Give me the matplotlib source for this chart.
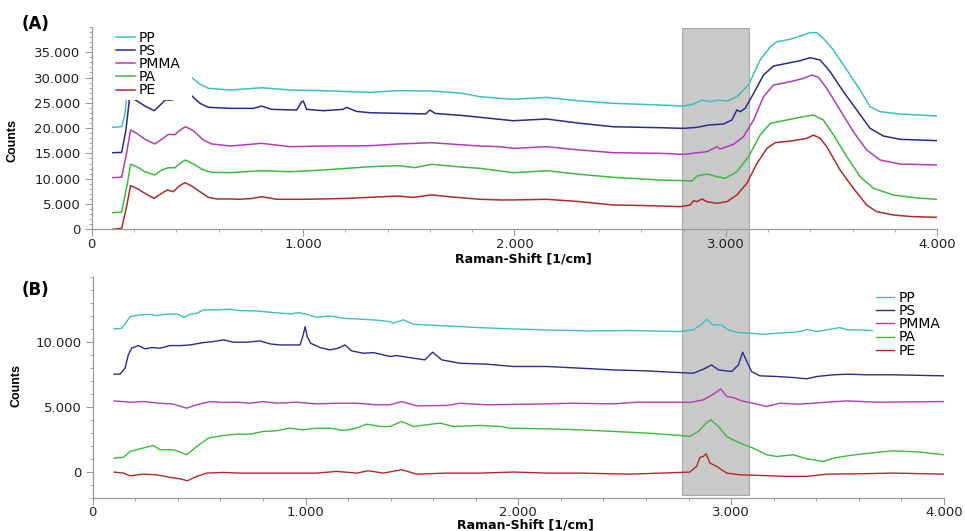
import matplotlib
matplotlib.use("Agg")
import matplotlib.pyplot as plt
from matplotlib.ticker import MultipleLocator, FixedLocator, FuncFormatter
from matplotlib.patches import Rectangle
import matplotlib.transforms as mtransforms

# ---------------- data: panel (A) ----------------
names = ["PP", "PS", "PMMA", "PA", "PE"]
colors = ["#3fbfbf", "#2b2b8c", "#b23cb2", "#3cba3c", "#b02a2a"]

pp_a_x = [100, 142, 158, 165, 175, 200, 300, 440, 473, 512, 552, 657, 804, 939, 1096, 1316, 1450, 1608, 1750, 1837,
          1994, 2152, 2300, 2467, 2690, 2800, 2847, 2887, 2926, 2965, 3005, 3052, 3107, 3162, 3210, 3241, 3304, 3351,
          3398, 3430, 3461, 3509, 3572, 3635, 3682, 3729, 3824, 4000]
pp_a_y = [20150, 20300, 22920, 26000, 28000, 29000, 30500, 31000, 30030, 28700, 27860, 27530, 27980, 27530, 27390,
          27070, 27400, 27330, 26900, 26200, 25690, 26080, 25400, 24900, 24560, 24370, 24760, 25550, 25220, 25550,
          25350, 26210, 28520, 33460, 36090, 37080, 37540, 38200, 38860, 38860, 37740, 35430, 31480, 27530, 24230,
          23250, 22780, 22390]

ps_a_x = [100, 142, 162, 178, 186, 213, 252, 295, 324, 348, 379, 407, 440, 473, 512, 552, 657, 765, 804, 851, 970,
          993, 1001, 1017, 1096, 1190, 1206, 1253, 1316, 1450, 1580, 1600, 1625, 1750, 1837, 1994, 2152, 2300, 2467,
          2690, 2800, 2863, 2918, 2989, 3028, 3052, 3068, 3091, 3131, 3178, 3225, 3288, 3351, 3398, 3446, 3493, 3556,
          3619, 3682, 3745, 3824, 4000]
ps_a_y = [15140, 15200, 19620, 25550, 26010, 25410, 24360, 23440, 24560, 25550, 25550, 26010, 27000, 26400, 24900,
          24110, 23900, 23900, 24360, 23710, 23570, 25210, 25350, 23710, 23440, 23710, 24100, 23300, 23040, 22920,
          22800, 23570, 22900, 22500, 22130, 21460, 21800, 21000, 20270, 20080, 19950, 20150, 20610, 20810, 21600,
          23580, 23250, 23900, 26870, 30490, 32270, 32800, 33320, 33920, 33460, 31150, 27200, 23580, 19950, 18440,
          17780, 17520]

pmma_a_x = [100, 142, 165, 184, 213, 252, 299, 331, 363, 394, 418, 444, 481, 528, 568, 657, 804, 939, 1096, 1316,
            1450, 1608, 1750, 1837, 1931, 1994, 2152, 2300, 2467, 2690, 2800, 2910, 2958, 2973, 3036, 3083, 3131,
            3178, 3225, 3304, 3367, 3406, 3438, 3477, 3540, 3603, 3666, 3729, 3824, 4000]
pmma_a_y = [10200, 10300, 15020, 19620, 18970, 17780, 16860, 17780, 18770, 18700, 19620, 20270, 19480, 17650, 16860,
            16460, 16990, 16320, 16460, 16520, 16860, 17110, 16700, 16460, 16320, 16000, 16320, 15700, 15140, 15010,
            14810, 15340, 16330, 15870, 16790, 18310, 21600, 26210, 28520, 29170, 29830, 30490, 30030, 27860, 23580,
            19290, 15670, 13700, 12900, 12710]

pa_a_x = [100, 142, 169, 184, 213, 252, 299, 331, 363, 394, 418, 444, 481, 528, 568, 657, 804, 939, 1096, 1316,
          1450, 1530, 1608, 1750, 1837, 1994, 2152, 2300, 2467, 2690, 2800, 2839, 2863, 2910, 2958, 2997, 3052, 3107,
          3162, 3210, 3288, 3367, 3414, 3461, 3509, 3572, 3635, 3698, 3792, 3900, 4000]
pa_a_y = [3280, 3400, 9090, 12840, 12370, 11380, 10730, 11720, 12170, 12170, 13040, 13690, 12900, 11720, 11260,
          11200, 11580, 11380, 11720, 12370, 12570, 12200, 12840, 12300, 12050, 11180, 11580, 10900, 10270, 9740,
          9610, 9540, 10530, 10930, 10400, 10070, 11390, 14350, 18630, 20940, 21600, 22260, 22590, 21600, 18630,
          14350, 10400, 8100, 6780, 6200, 5920]

pe_a_x = [100, 142, 165, 184, 213, 252, 295, 331, 358, 386, 414, 441, 473, 512, 552, 591, 650, 702, 760, 804, 875,
          1001, 1096, 1200, 1316, 1450, 1520, 1608, 1700, 1837, 1931, 1994, 2152, 2300, 2467, 2600, 2700, 2783, 2831,
          2847, 2863, 2887, 2910, 2958, 3005, 3052, 3099, 3147, 3194, 3233, 3320, 3383, 3414, 3446, 3477, 3540, 3603,
          3666, 3713, 3792, 3880, 4000]
pe_a_y = [0, 200, 4470, 8620, 8100, 7110, 6120, 7110, 7770, 7430, 8560, 9210, 8560, 7430, 6320, 5990, 6000, 5930,
          6100, 6440, 5930, 5930, 6000, 6100, 6320, 6580, 6300, 6800, 6400, 5930, 5800, 5800, 5930, 5500, 4800, 4700,
          4600, 4470, 4800, 5660, 5460, 5990, 5460, 5130, 5460, 6780, 9080, 13040, 16000, 17120, 17520, 17980, 18630,
          17980, 16330, 11720, 8100, 4800, 3480, 2830, 2500, 2370]

# ---------------- data: panel (B) ----------------
pp_b_x = [100, 136, 160, 175, 222, 269, 300, 340, 395, 429, 457, 489, 520, 582, 645, 692, 770, 849, 927, 966, 1005,
          1052, 1115, 1178, 1240, 1319, 1397, 1413, 1460, 1507, 1632, 1820, 1976, 2133, 2321, 2525, 2760, 2822, 2861,
          2885, 2916, 2955, 2987, 3026, 3088, 3151, 3214, 3292, 3339, 3355, 3402, 3449, 3511, 3543, 3605, 3668, 3800,
          4000]
pp_b_y = [11020, 11070, 11590, 11970, 12100, 12150, 12050, 12150, 12180, 11920, 12150, 12230, 12490, 12490, 12540,
          12430, 12410, 12280, 12180, 12280, 12150, 11920, 12020, 11840, 11790, 11720, 11590, 11460, 11720, 11380,
          11280, 11120, 11020, 10950, 10870, 10900, 10820, 10950, 11380, 11770, 11330, 11330, 10950, 10770, 10690,
          10610, 10690, 10770, 10870, 10990, 10820, 10950, 11130, 10950, 10950, 10890, 10900, 10900]

ps_b_x = [100, 128, 152, 167, 183, 214, 246, 277, 316, 363, 410, 457, 520, 567, 614, 661, 723, 786, 833, 880, 927,
          974, 987, 998, 1008, 1024, 1068, 1115, 1154, 1185, 1217, 1272, 1319, 1397, 1428, 1507, 1561, 1597, 1640,
          1726, 1851, 1976, 2133, 2290, 2446, 2603, 2760, 2822, 2869, 2908, 2940, 3002, 3034, 3054, 3070, 3096, 3135,
          3214, 3292, 3355, 3402, 3480, 3550, 3637, 3762, 4000]
ps_b_y = [7540, 7540, 8000, 9020, 9540, 9740, 9490, 9590, 9540, 9740, 9740, 9790, 9970, 10050, 10180, 10000, 10000,
          10100, 9870, 9790, 9790, 9790, 10430, 11200, 10430, 9920, 9590, 9410, 9540, 9790, 9330, 9150, 9200, 8900,
          8970, 8770, 8640, 9230, 8640, 8380, 8310, 8130, 8130, 8000, 7870, 7790, 7660, 7610, 7920, 8250, 7870, 7740,
          8250, 9230, 8640, 7740, 7410, 7360, 7280, 7180, 7360, 7490, 7540, 7490, 7490, 7410]

pmma_b_x = [100, 175, 238, 316, 379, 441, 489, 551, 614, 677, 739, 802, 864, 958, 1052, 1146, 1240, 1334, 1397, 1452,
            1522, 1663, 1726, 1851, 2055, 2258, 2446, 2556, 2760, 2806, 2869, 2924, 2951, 2979, 3010, 3049, 3104,
            3167, 3229, 3323, 3433, 3543, 3684, 4000]
pmma_b_y = [5480, 5380, 5430, 5300, 5230, 4920, 5180, 5430, 5360, 5380, 5300, 5430, 5300, 5380, 5250, 5300, 5300,
            5180, 5180, 5430, 5100, 5130, 5300, 5180, 5230, 5300, 5250, 5380, 5380, 5360, 5560, 6070, 6410, 5820,
            5740, 5480, 5300, 5050, 5300, 5230, 5360, 5480, 5380, 5430]

pa_b_x = [100, 144, 175, 222, 285, 316, 379, 410, 441, 489, 543, 614, 677, 739, 802, 864, 927, 990, 1052, 1115, 1178,
          1240, 1287, 1350, 1397, 1452, 1507, 1632, 1695, 1820, 1914, 1961, 2133, 2290, 2446, 2603, 2760, 2806, 2846,
          2877, 2904, 2940, 2979, 3041, 3104, 3167, 3214, 3292, 3355, 3433, 3480, 3558, 3652, 3762, 3887, 4000]
pa_b_y = [1070, 1130, 1590, 1790, 2050, 1720, 1720, 1540, 1330, 1970, 2610, 2820, 2920, 2920, 3130, 3180, 3380, 3250,
          3380, 3380, 3200, 3380, 3690, 3510, 3510, 3900, 3510, 3770, 3510, 3590, 3510, 3380, 3330, 3250, 3130, 3000,
          2820, 2740, 3130, 3690, 4020, 3510, 2740, 2230, 1840, 1330, 1200, 1330, 1020, 820, 1070, 1280, 1460, 1640,
          1540, 1330]

pe_b_x = [100, 144, 175, 238, 300, 363, 410, 445, 489, 536, 614, 692, 770, 864, 958, 1052, 1146, 1240, 1295, 1366,
          1452, 1522, 1663, 1820, 1976, 2133, 2290, 2525, 2760, 2806, 2838, 2853, 2869, 2882, 2900, 2932, 2979, 3041,
          3135, 3261, 3355, 3449, 3605, 3762, 4000]
pe_b_y = [0, -80, -290, -160, -210, -410, -520, -670, -330, -80, -30, -80, -80, -80, -80, -80, 50, -80, 100, -80,
          180, -160, -80, -80, 0, -80, -80, -160, -30, 0, 440, 1130, 1200, 1410, 690, 440, -80, -210, -260, -330, -330,
          -160, -130, -80, -160]

series_a = [(pp_a_x, pp_a_y), (ps_a_x, ps_a_y), (pmma_a_x, pmma_a_y), (pa_a_x, pa_a_y), (pe_a_x, pe_a_y)]
series_b = [(pp_b_x, pp_b_y), (ps_b_x, ps_b_y), (pmma_b_x, pmma_b_y), (pa_b_x, pa_b_y), (pe_b_x, pe_b_y)]

band = (2790, 3110)
xticks = [0, 1000, 2000, 3000, 4000]
yticks_a = [0, 5000, 10000, 15000, 20000, 25000, 30000, 35000]
yticks_b = [0, 5000, 10000]

# ---------------- figure ----------------
plt.rcParams['font.family'] = ['DejaVu Sans']
fig = plt.figure(figsize=(9.65, 5.31), dpi=100)
ax1 = fig.add_axes([0.0950, 0.5682, 0.8763, 0.3811])
ax2 = fig.add_axes([0.0961, 0.0621, 0.8821, 0.4157])

fmt = FuncFormatter(lambda v, p: f"{int(round(v)):,}".replace(",", "."))
spine_c = "#9a9a9a"

for ax, series, yt, ylim, lw in [(ax1, series_a, yticks_a, (0, 40000), 1.1),
                                 (ax2, series_b, yticks_b, (-2000, 15000), 1.0)]:
    ax.set_facecolor("none")
    for (xs, ys), nm, c in zip(series, names, colors):
        ax.plot(xs, ys, color=c, lw=lw, label=nm)
    ax.set_xlim(0, 4000)
    ax.set_ylim(*ylim)
    ax.xaxis.set_major_locator(FixedLocator(xticks))
    ax.xaxis.set_minor_locator(MultipleLocator(200))
    ax.yaxis.set_major_locator(FixedLocator(yt))
    ax.yaxis.set_minor_locator(MultipleLocator(1000))
    ax.xaxis.set_major_formatter(fmt)
    ax.yaxis.set_major_formatter(fmt)
    for s in ["top", "right"]:
        ax.spines[s].set_visible(False)
    for s in ["left", "bottom"]:
        ax.spines[s].set_color(spine_c)
        ax.spines[s].set_linewidth(0.9)
    ax.tick_params(which="major", direction="out", length=5, width=0.8, color=spine_c,
                   labelsize=9.5, labelcolor="#222222", pad=3)
    ax.tick_params(axis="x", which="major", pad=1)
    ax.tick_params(which="minor", direction="out", length=2.5, width=0.6, color=spine_c)
    ax.set_xlabel("Raman-Shift [1/cm]", fontsize=9, fontweight="bold", labelpad=1)
    ax.set_ylabel("Counts", fontsize=9, fontweight="bold", family=["Liberation Sans Narrow", "Liberation Sans"])

ax1.xaxis.set_label_coords(0.51, -0.112)
ax2.xaxis.set_label_coords(0.508, -0.093)
ax1.yaxis.set_label_coords(-0.087, 0.44)
ax2.yaxis.set_label_coords(-0.082, 0.51)

leg_kw = dict(frameon=True, facecolor="white", edgecolor="none", framealpha=1, fancybox=False,
              fontsize=10, handlelength=1.35, handletextpad=0.3, labelspacing=-0.06, borderpad=0.2,
              borderaxespad=0, mode="expand")
ax1.legend(loc="upper left", bbox_to_anchor=(0.0252, 0.695, 0.0934, 0.3), **leg_kw)
ax2.legend(loc="upper left", bbox_to_anchor=(0.9166, 0.651, 0.0905, 0.3), **leg_kw)

# gray band spanning both panels
trans = mtransforms.blended_transform_factory(ax1.transData, fig.transFigure)
rect = Rectangle((band[0], 0.0678), band[1] - band[0], 0.9478 - 0.0678, transform=trans,
                 facecolor="#c9c9c9", edgecolor="#a8a8a8", lw=0.8, zorder=-1)
fig.add_artist(rect)

fig.text(0.0225, 0.955, "(A)", fontsize=12, fontweight="bold", va="center", ha="left")
fig.text(0.0225, 0.454, "(B)", fontsize=12, fontweight="bold", va="center", ha="left")

fig.savefig("out.png", dpi=100)
